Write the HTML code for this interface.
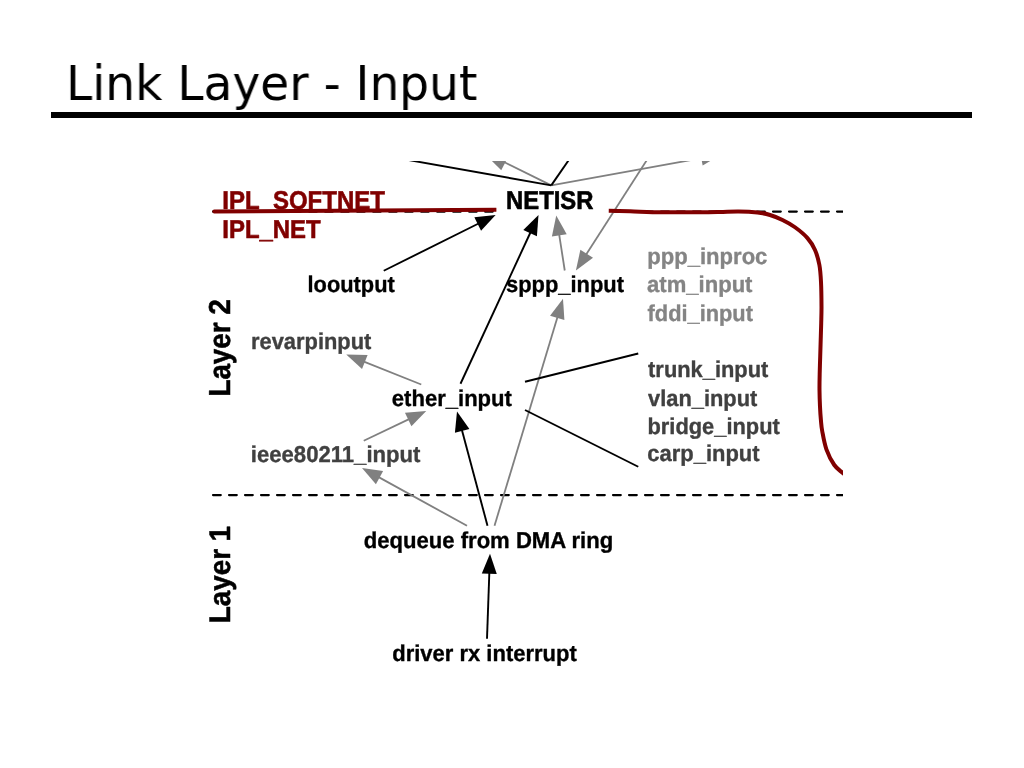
<!DOCTYPE html>
<html lang="en">
<head>
<meta charset="utf-8">
<title>Link Layer - Input</title>
<style>
html,body{margin:0;padding:0;background:#fff;}
body{width:1024px;height:768px;overflow:hidden;position:relative;font-family:"Liberation Sans",sans-serif;}
h1{position:absolute;left:65.5px;top:53.9px;transform:scaleX(0.9805);transform-origin:0 0;will-change:transform;margin:0;font-family:"DejaVu Sans","Liberation Sans",sans-serif;font-weight:normal;font-size:48px;line-height:58px;color:#000;white-space:nowrap;}
.rule{position:absolute;left:51px;top:112px;width:921px;height:6px;background:#000;}
svg{position:absolute;left:0;top:0;}
svg text{font-family:"Liberation Sans",sans-serif;font-weight:bold;text-rendering:geometricPrecision;stroke-linejoin:round;}
.k{fill:#000;stroke:#000}.d{fill:#404040;stroke:#404040}.g{fill:#848484;stroke:#848484}.r{fill:#800000;stroke:#800000}
</style>
</head>
<body>
<h1>Link Layer - Input</h1>
<div class="rule"></div>
<svg width="1024" height="768" viewBox="0 0 1024 768">
<defs><clipPath id="c"><rect x="205" y="161" width="638" height="519"/></clipPath></defs>
<g clip-path="url(#c)">
<g stroke="#000" stroke-width="2.3" stroke-dasharray="7.7 8.3" stroke-linecap="round" fill="none">
<line x1="213.05" y1="211.6" x2="860" y2="211.6"/>
<line x1="213.05" y1="495.1" x2="860" y2="495.1"/>
</g>
<g>
<line x1="551.25" y1="185.4" x2="702.31" y2="157.99" stroke="#808080" stroke-width="1.8"/><polygon points="721,154.6 702.66,165.55 699.98,150.79" fill="#808080"/>
<line x1="652.67" y1="151" x2="586.16" y2="254.61" stroke="#808080" stroke-width="1.8"/><polygon points="575.9,270.6 580.39,249.72 593.02,257.82" fill="#808080"/>
<line x1="564.75" y1="270.5" x2="559.16" y2="234.38" stroke="#808080" stroke-width="1.8"/><polygon points="556.25,215.6 566.72,234.22 551.9,236.51" fill="#808080"/>
<line x1="494.5" y1="525.75" x2="557.51" y2="316.94" stroke="#808080" stroke-width="1.8"/><polygon points="563,298.75 564.4,320.06 550.04,315.73" fill="#808080"/>
<line x1="421.25" y1="384.5" x2="363.89" y2="361.56" stroke="#808080" stroke-width="1.8"/><polygon points="346.25,354.5 367.6,354.96 362.03,368.89" fill="#808080"/>
<line x1="363.75" y1="440.75" x2="409.09" y2="419.17" stroke="#808080" stroke-width="1.8"/><polygon points="426.25,411 411.41,426.37 404.97,412.82" fill="#808080"/>
<line x1="467" y1="525.75" x2="378.65" y2="477.16" stroke="#808080" stroke-width="1.8"/><polygon points="362,468 383.14,471.07 375.91,484.21" fill="#808080"/>
<line x1="551.25" y1="185.4" x2="503.5" y2="161.8" stroke="#808080" stroke-width="1.8"/>
<polygon points="501.25,170.25 486.9,156 508.6,156" fill="#808080"/>
</g>
<g stroke="#800000" stroke-width="4" fill="none">
<path d="M214.3,211.6 L496.4,209.8" stroke-linecap="round"/>
<path d="M608.5,210.75 C612.08,210.84 621.08,211.04 630,211.3 C638.92,211.56 650.33,212.15 662,212.3 C673.67,212.45 690.33,212.27 700,212.2 C709.67,212.13 713.54,212.03 720,211.9 C726.46,211.77 732.5,211.3 738.75,211.4 C745,211.5 752.29,211.9 757.5,212.5 C762.71,213.1 765.83,213.75 770,215 C774.17,216.25 778.33,217.96 782.5,220 C786.67,222.04 790.83,224.23 795,227.25 C799.17,230.27 804.17,234.31 807.5,238.1 C810.83,241.89 813.02,245.52 815,250 C816.98,254.48 818.4,259.67 819.4,265 C820.4,270.33 820.65,275.05 821,282 C821.35,288.95 821.47,299.82 821.5,306.7 C821.53,313.58 821.33,317.75 821.2,323.3 C821.07,328.85 820.87,334.43 820.7,340 C820.53,345.57 820.37,351.15 820.2,356.7 C820.03,362.25 819.82,367.75 819.7,373.3 C819.58,378.85 819.45,384.43 819.5,390 C819.55,395.57 819.77,401.7 820,406.7 C820.23,411.7 820.53,415.95 820.9,420 C821.27,424.05 821.28,426.12 822.2,431 C823.12,435.88 824.38,443.63 826.4,449.3 C828.42,454.97 831.57,461.05 834.3,465 C837.03,468.95 840.18,470.67 842.8,473 C845.42,475.33 848.8,478 850,479"/>
</g>
<rect x="496.4" y="187" width="112.1" height="27.3" fill="#fff"/>
<g>
<line x1="357.8" y1="151" x2="551.25" y2="185.4" stroke="#000" stroke-width="1.9"/>
<line x1="551.25" y1="185.4" x2="575" y2="151" stroke="#000" stroke-width="1.9"/>
<line x1="525" y1="381.75" x2="638.25" y2="353.5" stroke="#000" stroke-width="1.9"/>
<line x1="525" y1="410" x2="638.25" y2="466.75" stroke="#000" stroke-width="1.9"/>
<line x1="383.75" y1="270.75" x2="478.6" y2="223.48" stroke="#000" stroke-width="1.9"/><polygon points="495.6,215 481.05,230.63 474.35,217.21" fill="#000"/>
<line x1="460.5" y1="383.75" x2="530.53" y2="232.25" stroke="#000" stroke-width="1.9"/><polygon points="538.5,215 536.92,236.3 523.3,230.01" fill="#000"/>
<line x1="487.5" y1="525.75" x2="461.9" y2="429.96" stroke="#000" stroke-width="1.9"/><polygon points="457,411.6 469.41,428.99 454.92,432.86" fill="#000"/>
<line x1="487" y1="638.75" x2="489.33" y2="572.74" stroke="#000" stroke-width="1.9"/><polygon points="490,553.75 496.79,574 481.8,573.47" fill="#000"/>
</g>
<text class="r" transform="translate(222.27,208.75) scale(0.93,1)" font-size="25.8" stroke-width="0.6">IPL_SOFTNET</text>
<text class="r" transform="translate(222.27,237.75) scale(0.928,1)" font-size="25.8" stroke-width="0.6">IPL_NET</text>
<text class="k" transform="translate(506.04,209) scale(0.9237,1)" font-size="25.8" stroke-width="0.6">NETISR</text>
<text class="k" transform="translate(307.52,291.75) scale(0.9533,1)" font-size="22.9" stroke-width="0.35">looutput</text>
<text class="k" transform="translate(506.03,292) scale(0.9559,1)" font-size="22.9" stroke-width="0.35">sppp_input</text>
<text class="g" transform="translate(647.27,263.75) scale(0.9637,1)" font-size="22.9" stroke-width="0.35">ppp_inproc</text>
<text class="g" transform="translate(647.08,292) scale(0.9634,1)" font-size="22.9" stroke-width="0.35">atm_input</text>
<text class="g" transform="translate(647.55,320.5) scale(0.9524,1)" font-size="22.9" stroke-width="0.35">fddi_input</text>
<text class="d" transform="translate(251.02,349) scale(0.9555,1)" font-size="22.9" stroke-width="0.35">revarpinput</text>
<text class="k" transform="translate(391.8,405.5) scale(0.9635,1)" font-size="22.9" stroke-width="0.35">ether_input</text>
<text class="d" transform="translate(250.82,461.5) scale(0.9658,1)" font-size="22.9" stroke-width="0.35">ieee80211_input</text>
<text class="d" transform="translate(648.09,376.5) scale(0.955,1)" font-size="22.9" stroke-width="0.35">trunk_input</text>
<text class="d" transform="translate(648.09,405.5) scale(0.9543,1)" font-size="22.9" stroke-width="0.35">vlan_input</text>
<text class="d" transform="translate(647.52,433.75) scale(0.9543,1)" font-size="22.9" stroke-width="0.35">bridge_input</text>
<text class="d" transform="translate(647.3,461.25) scale(0.9592,1)" font-size="22.9" stroke-width="0.35">carp_input</text>
<text class="k" transform="translate(363.78,547.5) scale(0.9645,1)" font-size="22.9" stroke-width="0.35">dequeue from DMA ring</text>
<text class="k" transform="translate(392.28,660.5) scale(0.9601,1)" font-size="22.9" stroke-width="0.35">driver rx interrupt</text>
<text class="k" font-size="30.3" stroke-width="0.55" transform="translate(230.0,396.59) rotate(-90) scale(0.9179,1)">Layer</text>
<text class="k" font-size="30.3" stroke-width="0.55" transform="translate(230.0,314.85) rotate(-90) scale(0.9254,1)">2</text>
<text class="k" font-size="29.7" stroke-width="0.55" transform="translate(229.6,623.28) rotate(-90) scale(0.9378,1)">Layer</text>
<text class="k" font-size="29.7" stroke-width="0.55" transform="translate(229.6,541.58) rotate(-90) scale(0.9378,1)">1</text>
</g>
</svg>
</body>
</html>
